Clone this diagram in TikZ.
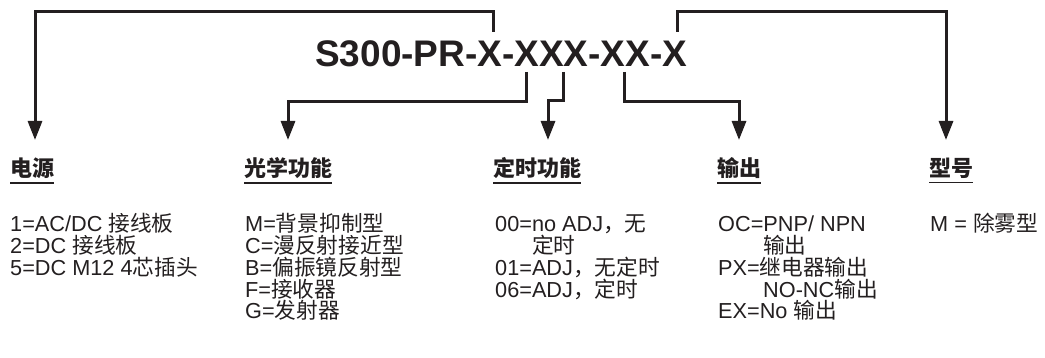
\documentclass[tikz,border=0pt]{standalone}
\usepackage{fontspec}
\setmainfont{Liberation Sans}
\newfontfamily\zh{Noto Sans CJK SC}
\usetikzlibrary{arrows.meta}
\definecolor{ink}{HTML}{231F20}
\tikzset{
  conn/.style={draw=ink, line width=3pt, -{Triangle[width=14pt,length=19pt]}},
  head/.style={anchor=base west, inner sep=0pt, text=ink, font=\fontsize{22}{24}\selectfont\zh\bfseries},
  item/.style={anchor=base west, inner sep=0pt, text=ink, font=\fontsize{21.7}{24}\selectfont},
  uline/.style={draw=ink, line width=1.5pt},
}
\begin{document}
\begin{tikzpicture}[x=1pt,y=-1pt]
\useasboundingbox (0,0) rectangle (1045,358);
% code
\node[anchor=base west, inner sep=0pt, text=ink, font=\fontsize{37}{40}\selectfont\bfseries] (code) at (315,67) {S300-PR-X-XXX-XX-X};
% anchor coordinates on the code
\coordinate (k1) at (493,32);
\coordinate (k2) at (526,72);
\coordinate (k3) at (563,72);
\coordinate (k4) at (624,72);
\coordinate (k5) at (677,32);
% headers
\node[head] (h1) at (10,177) {电源};
\node[head] (h2) at (244,177) {光学功能};
\node[head] (h3) at (493,177) {定时功能};
\node[head] (h4) at (717,177) {输出};
\node[head] (h5) at (929,177) {型号};
\foreach \h in {h1,h2,h3,h4,h5}{
  \draw[uline] ([yshift=-3.5pt]\h.south west) -- ([yshift=-3.5pt]\h.south east);
}
% arrow targets
\coordinate (t1) at (35,140);
\coordinate (t2) at (288,140);
\coordinate (t3) at (548,140);
\coordinate (t4) at (739,140);
\coordinate (t5) at (946,140);
% connectors
\draw[conn] (k1) -- (k1 |- 0,12) -- (t1 |- 0,12) -- (t1);
\draw[conn] (k2) -- (k2 |- 0,102) -- (t2 |- 0,102) -- (t2);
\draw[conn] (k3) -- (k3 |- 0,101) -- (t3 |- 0,101) -- (t3);
\draw[conn] (k4) -- (k4 |- 0,102) -- (t4 |- 0,102) -- (t4);
\draw[conn] (k5) -- (k5 |- 0,12) -- (t5 |- 0,12) -- (t5);
% column 1
\node[item] (a1) at (10,232) {1=AC/DC {\zh 接线板}};
\node[item] (a2) at (10,253.75) {2=DC {\zh 接线板}};
\node[item] (a3) at (10,275.5) {5=DC M12 4{\zh 芯插头}};
% column 2
\node[item] (b1) at (245,232) {M={\zh 背景抑制型}};
\node[item] (b2) at (245,253.75) {C={\zh 漫反射接近型}};
\node[item] (b3) at (245,275.5) {B={\zh 偏振镜反射型}};
\node[item] (b4) at (245,297.25) {F={\zh 接收器}};
\node[item] (b5) at (245,319) {G={\zh 发射器}};
% column 3
\node[item] (c1) at (495,232) {00=no ADJ{\zh ，无}};
\node[item] (c2) at (532,253.75) {\zh 定时};
\node[item] (c3) at (495,275.5) {01=ADJ{\zh ，无定时}};
\node[item] (c4) at (495,297.25) {06=ADJ{\zh ，定时}};
% column 4
\node[item] (d1) at (718,232) {OC=PNP/ NPN};
\node[item] (d2) at (763,253.75) {\zh 输出};
\node[item] (d3) at (718,275.5) {PX={\zh 继电器输出}};
\node[item] (d4) at (763,297.25) {NO-NC{\zh 输出}};
\node[item] (d5) at (718,319) {EX=No {\zh 输出}};
% column 5
\node[item] (e1) at (930,232) {M = {\zh 除雾型}};
\end{tikzpicture}
\end{document}
